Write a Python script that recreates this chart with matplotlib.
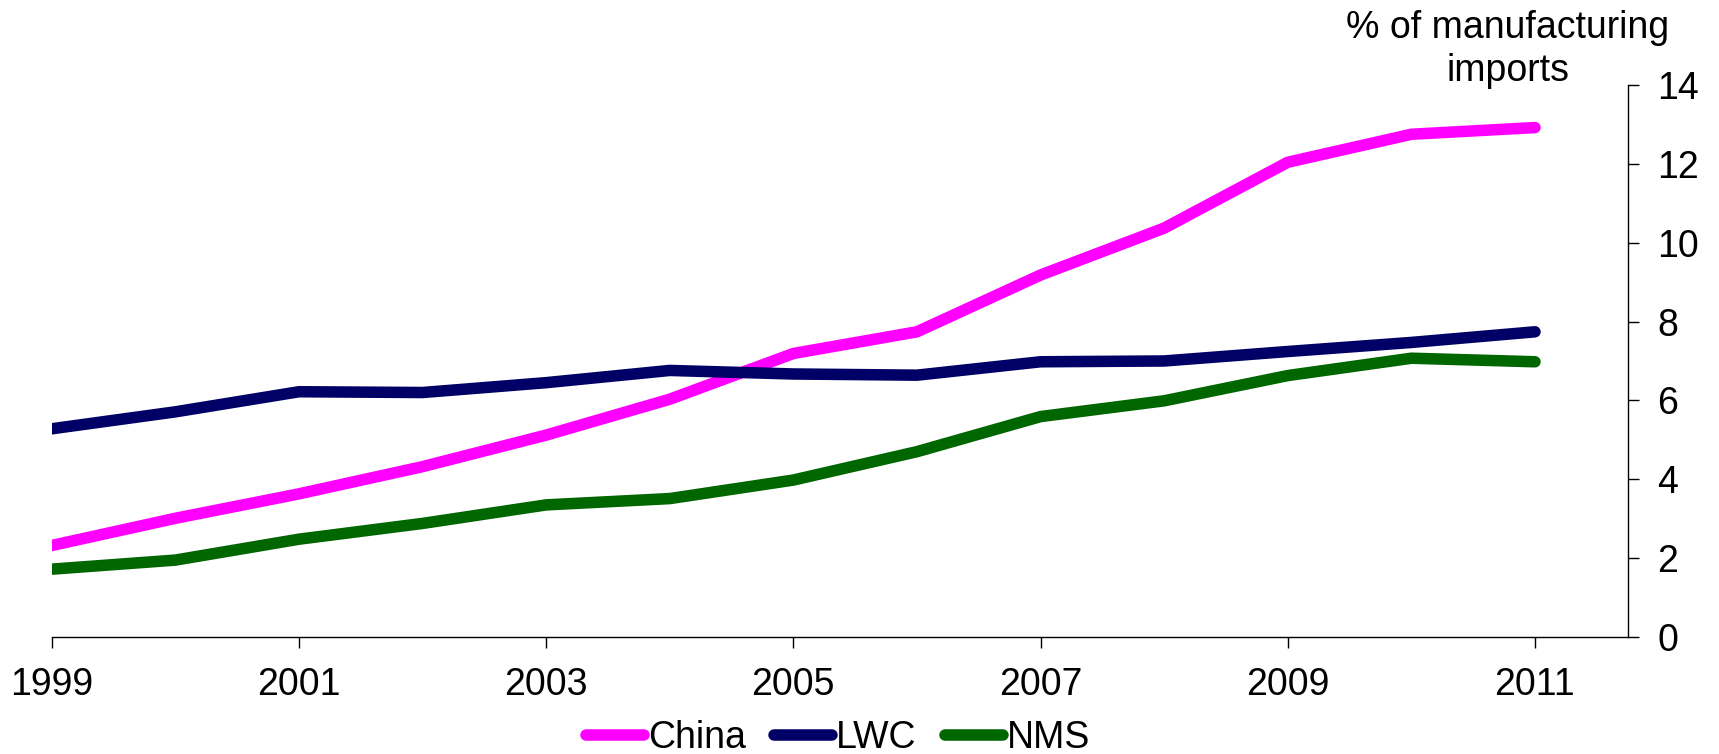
import matplotlib
matplotlib.use("Agg")
import matplotlib.pyplot as plt

years = [1999, 2000, 2001, 2002, 2003, 2004, 2005, 2006, 2007, 2008, 2009, 2010, 2011]
china = [2.32, 3.01, 3.63, 4.32, 5.12, 6.03, 7.19, 7.74, 9.18, 10.37, 12.04, 12.75, 12.92]
lwc = [5.28, 5.71, 6.22, 6.20, 6.45, 6.76, 6.67, 6.64, 6.98, 7.00, 7.24, 7.47, 7.74]
nms = [1.72, 1.95, 2.48, 2.88, 3.35, 3.51, 3.98, 4.70, 5.59, 5.99, 6.63, 7.07, 6.98]

series_names = ["China", "LWC", "NMS"]
series_colors = ["#FF00FF", "#000066", "#006600"]
xtick_years = [1999, 2001, 2003, 2005, 2007, 2009, 2011]
ytick_vals = [0, 2, 4, 6, 8, 10, 12, 14]
ylabel_lines = ["% of manufacturing", "imports"]

plt.rcParams['font.family'] = ['Liberation Sans', 'DejaVu Sans']
FS = 27

fig = plt.figure(figsize=(17.19, 7.54), dpi=100)
ax = fig.add_axes([0.0301, 0.1552, 0.9471 - 0.0301, 0.8873 - 0.1552])

for vals, name, col in zip([china, lwc, nms], series_names, series_colors):
    ax.plot(years, vals, color=col, lw=8.3, label=name,
            solid_capstyle='round', solid_joinstyle='round')

ax.set_xlim(1999, 2011.753)
ax.set_ylim(0, 14)
ax.set_xticks(xtick_years)
ax.set_xticklabels([str(y) for y in xtick_years])
ax.set_yticks(ytick_vals)
ax.yaxis.tick_right()
ax.yaxis.set_label_position("right")

for s in ['top', 'left']:
    ax.spines[s].set_visible(False)
for s in ['bottom', 'right']:
    ax.spines[s].set_linewidth(1.0)
    ax.spines[s].set_color('black')

ax.tick_params(axis='x', direction='out', length=8, width=1.0, labelsize=FS, pad=13.5)
ax.tick_params(axis='y', direction='out', length=8, width=1.0, labelsize=FS, pad=13)

for line, base_px in zip(ylabel_lines, [38, 81]):
    fig.text(1508 / 1719, 1 - base_px / 754, line, ha='center', va='baseline',
             fontsize=FS)

leg = fig.legend(loc='center', bbox_to_anchor=(0.4875, 0.021), ncol=3, frameon=False,
                 fontsize=FS, handlelength=1.55, handletextpad=0.1, columnspacing=0.75,
                 borderaxespad=0, borderpad=0)

fig.savefig("out.png", dpi=100)
